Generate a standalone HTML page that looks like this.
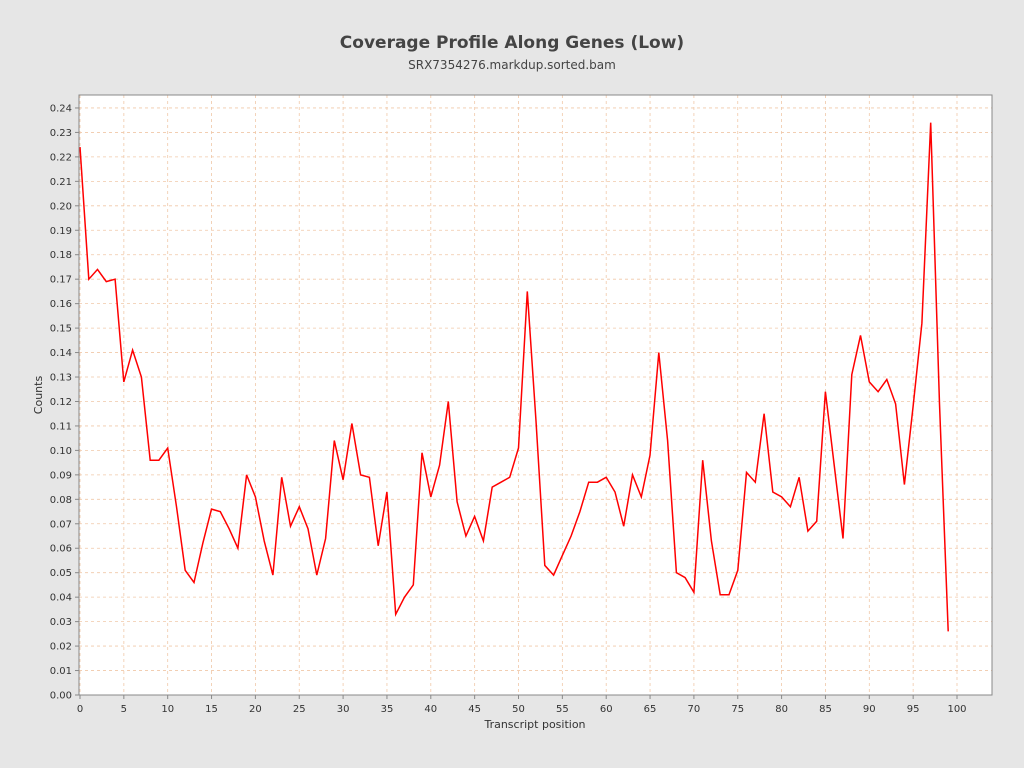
<!DOCTYPE html>
<html><head><meta charset="utf-8"><style>
body{margin:0;background:#e6e6e6;}
svg{display:block;font-family:"DejaVu Sans","Liberation Sans",sans-serif;}
</style></head><body>
<svg id="s" width="1024" height="768" xmlns="http://www.w3.org/2000/svg">
<rect x="0" y="0" width="1024" height="768" fill="#e6e6e6"/>
<text x="512" y="48" text-anchor="middle" font-size="17" font-weight="bold" fill="#444">Coverage Profile Along Genes (Low)</text>
<text x="512" y="69" text-anchor="middle" font-size="12" fill="#444">SRX7354276.markdup.sorted.bam</text>
<rect x="79" y="95" width="913" height="600" fill="#fff"/>
<g id="g"></g>
<rect x="79" y="95" width="913" height="600" fill="none" stroke="#888" stroke-width="1"/>
<text x="535" y="728" text-anchor="middle" font-size="11" fill="#333">Transcript position</text>
<text x="42" y="395" text-anchor="middle" font-size="11" fill="#333" transform="rotate(-90 42 395)">Counts</text>
</svg>
<script>
var d=[0.224,0.170,0.174,0.169,0.170,0.128,0.141,0.130,0.096,0.096,0.101,0.077,0.051,0.046,0.062,0.076,0.075,0.068,0.060,0.090,0.081,0.063,0.049,0.089,0.069,0.077,0.068,0.049,0.064,0.104,0.088,0.111,0.090,0.089,0.061,0.083,0.033,0.040,0.045,0.099,0.081,0.094,0.120,0.079,0.065,0.073,0.063,0.085,0.087,0.089,0.101,0.165,0.112,0.053,0.049,0.057,0.065,0.075,0.087,0.087,0.089,0.083,0.069,0.090,0.081,0.098,0.140,0.104,0.050,0.048,0.042,0.096,0.063,0.041,0.041,0.051,0.091,0.087,0.115,0.083,0.081,0.077,0.089,0.067,0.071,0.124,0.094,0.064,0.131,0.147,0.128,0.124,0.129,0.119,0.086,0.118,0.152,0.234,0.119,0.026];
function X(i){return 80+i*8.77;}function Y(v){return 695-v*2446;}
var h="";
for(var k=0;k<=24;k++){var y=Y(k/100);
h+='<line x1="79" x2="992" y1="'+y+'" y2="'+y+'" stroke="#f0c8a8" stroke-dasharray="3,3" stroke-width="0.8"/>';
h+='<line x1="75" x2="79" y1="'+y+'" y2="'+y+'" stroke="#888"/>';
h+='<text x="72" y="'+(y+3.5)+'" text-anchor="end" font-size="10" fill="#333">'+(k/100).toFixed(2)+'</text>';}
for(var k=0;k<=100;k+=5){var x=X(k);
h+='<line y1="95" y2="695" x1="'+x+'" x2="'+x+'" stroke="#f0c8a8" stroke-dasharray="3,3" stroke-width="0.8"/>';
h+='<line y1="695" y2="699" x1="'+x+'" x2="'+x+'" stroke="#888"/>';
h+='<text y="712" x="'+x+'" text-anchor="middle" font-size="10" fill="#333">'+k+'</text>';}
var p=d.map(function(v,i){return X(i).toFixed(1)+","+Y(v).toFixed(1);}).join(" ");
h+='<polyline points="'+p+'" fill="none" stroke="#f00" stroke-width="1.5"/>';
document.getElementById("g").innerHTML=h;
</script>
</body></html>
